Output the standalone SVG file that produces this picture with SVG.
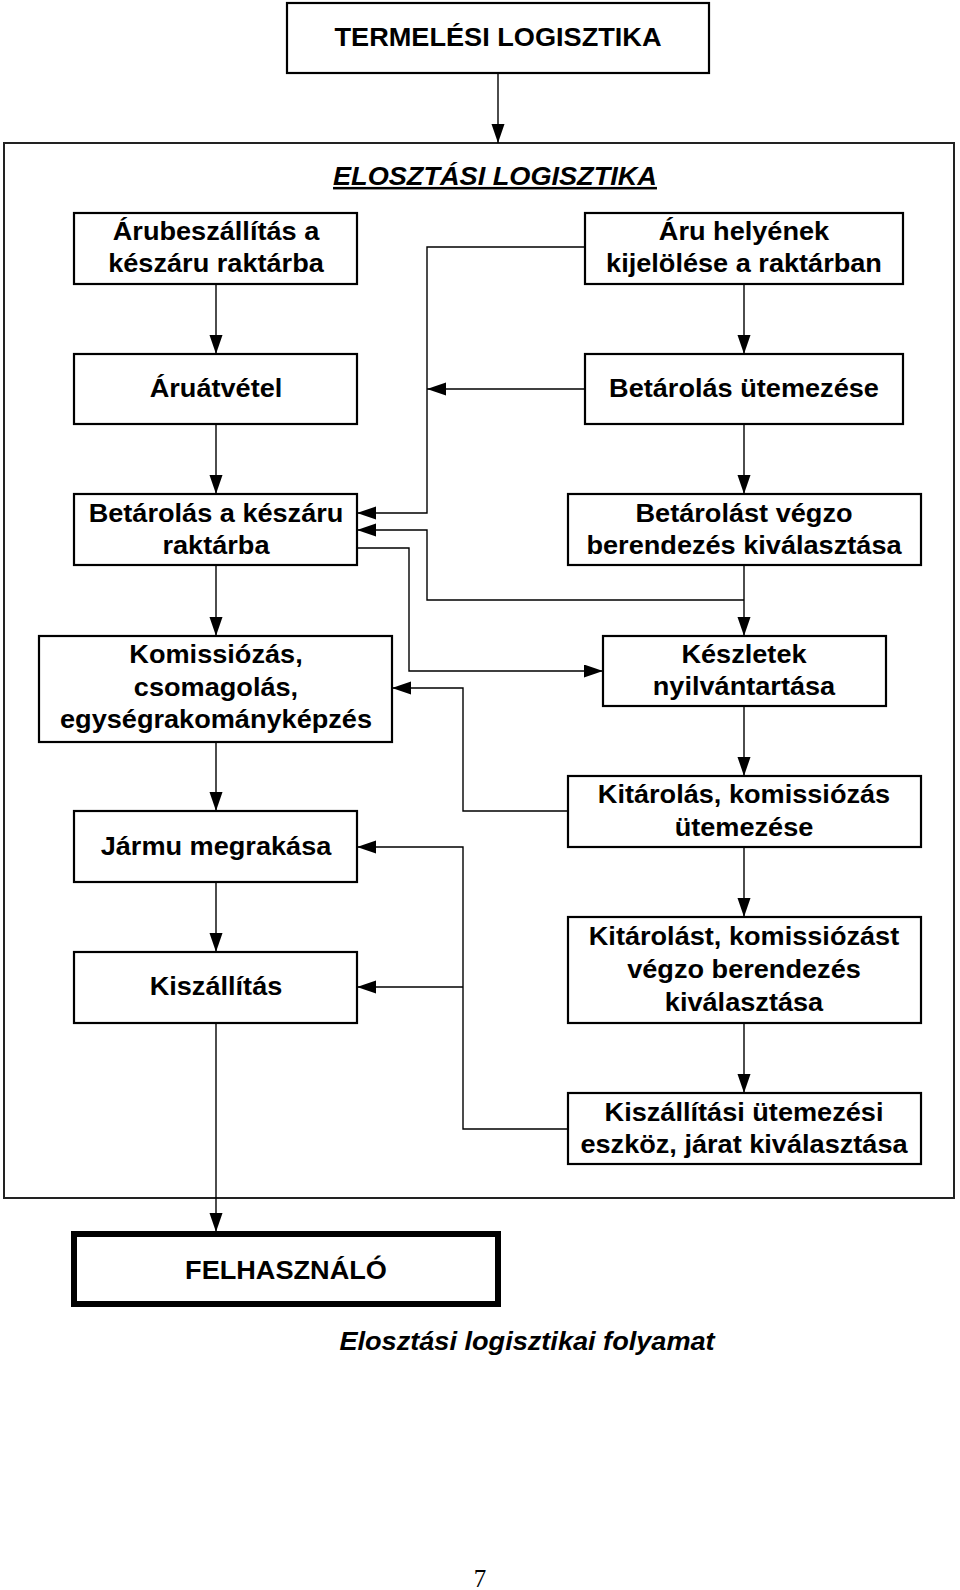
<svg xmlns="http://www.w3.org/2000/svg" width="960" height="1590" viewBox="0 0 960 1590">
<style>
.box{fill:#fff;stroke:#000;stroke-width:2.2}
.t{font-family:"Liberation Sans",Arial,Helvetica,sans-serif;font-weight:bold;font-size:25px;fill:#000;text-anchor:middle}
.c{fill:none;stroke:#000;stroke-width:1.4}
</style>
<defs>
<marker id="ah" markerUnits="userSpaceOnUse" markerWidth="20" markerHeight="14" refX="19" refY="6.5" orient="auto" viewBox="0 0 20 14">
<path d="M0,0 L19,6.5 L0,13 z" fill="#000"/>
</marker>
</defs>
<rect x="0" y="0" width="960" height="1590" fill="#fff"/>

<g id="outer">
<rect x="4" y="143" width="950" height="1055" fill="none" stroke="#222" stroke-width="2"/>
<text class="t" font-style="italic" text-decoration="underline" transform="translate(495,185) scale(1.085 1)">ELOSZTÁSI LOGISZTIKA</text>
</g>

<g id="termelesi">
<rect class="box" x="287" y="3" width="422" height="70"/>
<text class="t" transform="translate(498,46) scale(1.085 1)">TERMELÉSI LOGISZTIKA</text>
</g>

<g id="arubeszallitas">
<rect class="box" x="74" y="213" width="283" height="71"/>
<text class="t" transform="translate(216,240) scale(1.085 1)">Árubeszállítás a</text>
<text class="t" transform="translate(216,272) scale(1.085 1)">készáru raktárba</text>
</g>
<g id="aruatvetel">
<rect class="box" x="74" y="354" width="283" height="70"/>
<text class="t" transform="translate(216,397) scale(1.085 1)">Áruátvétel</text>
</g>
<g id="betarolas-keszaru">
<rect class="box" x="74" y="494" width="283" height="71"/>
<text class="t" transform="translate(216,522) scale(1.085 1)">Betárolás a készáru</text>
<text class="t" transform="translate(216,554) scale(1.085 1)">raktárba</text>
</g>
<g id="komissiozas">
<rect class="box" x="39" y="636" width="353" height="106"/>
<text class="t" transform="translate(216,663) scale(1.085 1)">Komissiózás,</text>
<text class="t" transform="translate(216,696) scale(1.085 1)">csomagolás,</text>
<text class="t" transform="translate(216,728) scale(1.085 1)">egységrakományképzés</text>
</g>
<g id="jarmu">
<rect class="box" x="74" y="811" width="283" height="71"/>
<text class="t" transform="translate(216,855) scale(1.085 1)">Jármu megrakása</text>
</g>
<g id="kiszallitas">
<rect class="box" x="74" y="952" width="283" height="71"/>
<text class="t" transform="translate(216,995) scale(1.085 1)">Kiszállítás</text>
</g>

<g id="aru-helyenek">
<rect class="box" x="585" y="213" width="318" height="71"/>
<text class="t" transform="translate(744,240) scale(1.085 1)">Áru helyének</text>
<text class="t" transform="translate(744,272) scale(1.085 1)">kijelölése a raktárban</text>
</g>
<g id="betarolas-utemezese">
<rect class="box" x="585" y="354" width="318" height="70"/>
<text class="t" transform="translate(744,397) scale(1.085 1)">Betárolás ütemezése</text>
</g>
<g id="betarolast-vegzo">
<rect class="box" x="568" y="494" width="353" height="71"/>
<text class="t" transform="translate(744,522) scale(1.085 1)">Betárolást végzo</text>
<text class="t" transform="translate(744,554) scale(1.085 1)">berendezés kiválasztása</text>
</g>
<g id="keszletek">
<rect class="box" x="603" y="636" width="283" height="70"/>
<text class="t" transform="translate(744,663) scale(1.085 1)">Készletek</text>
<text class="t" transform="translate(744,695) scale(1.085 1)">nyilvántartása</text>
</g>
<g id="kitarolas-utemezese">
<rect class="box" x="568" y="776" width="353" height="71"/>
<text class="t" transform="translate(744,803) scale(1.085 1)">Kitárolás, komissiózás</text>
<text class="t" transform="translate(744,836) scale(1.085 1)">ütemezése</text>
</g>
<g id="kitarolast-vegzo">
<rect class="box" x="568" y="917" width="353" height="106"/>
<text class="t" transform="translate(744,945) scale(1.085 1)">Kitárolást, komissiózást</text>
<text class="t" transform="translate(744,978) scale(1.085 1)">végzo berendezés</text>
<text class="t" transform="translate(744,1011) scale(1.085 1)">kiválasztása</text>
</g>
<g id="kiszallitasi-utemezesi">
<rect class="box" x="568" y="1093" width="353" height="71"/>
<text class="t" transform="translate(744,1121) scale(1.085 1)">Kiszállítási ütemezési</text>
<text class="t" transform="translate(744,1153) scale(1.085 1)">eszköz, járat kiválasztása</text>
</g>

<g id="felhasznalo">
<rect x="74" y="1234" width="424" height="70" fill="#fff" stroke="#000" stroke-width="6"/>
<text class="t" transform="translate(286,1279) scale(1.085 1)">FELHASZNÁLÓ</text>
</g>

<g id="connectors">
<path class="c" d="M498,73 V143" marker-end="url(#ah)"/>
<path class="c" d="M216,284 V354" marker-end="url(#ah)"/>
<path class="c" d="M216,424 V494" marker-end="url(#ah)"/>
<path class="c" d="M216,565 V636" marker-end="url(#ah)"/>
<path class="c" d="M216,742 V811" marker-end="url(#ah)"/>
<path class="c" d="M216,882 V952" marker-end="url(#ah)"/>
<path class="c" d="M216,1023 V1232" marker-end="url(#ah)"/>
<path class="c" d="M744,284 V354" marker-end="url(#ah)"/>
<path class="c" d="M744,424 V494" marker-end="url(#ah)"/>
<path class="c" d="M744,565 V636" marker-end="url(#ah)"/>
<path class="c" d="M744,706 V776" marker-end="url(#ah)"/>
<path class="c" d="M744,847 V917" marker-end="url(#ah)"/>
<path class="c" d="M744,1023 V1093" marker-end="url(#ah)"/>
<path class="c" d="M585,247 H427 V513 H357" marker-end="url(#ah)"/>
<path class="c" d="M585,389 H427" marker-end="url(#ah)"/>
<path class="c" d="M744,600 H427 V530 H357" marker-end="url(#ah)"/>
<path class="c" d="M357,548 H409 V671 H603" marker-end="url(#ah)"/>
<path class="c" d="M568,811 H463 V688 H392" marker-end="url(#ah)"/>
<path class="c" d="M568,1129 H463 V847 H357" marker-end="url(#ah)"/>
<path class="c" d="M463,987 H357" marker-end="url(#ah)"/>
</g>

<text class="t" font-style="italic" transform="translate(527,1350) scale(1.085 1)">Elosztási logisztikai folyamat</text>
<text x="480" y="1587" font-family="'Liberation Serif','Times New Roman',serif" font-size="25" text-anchor="middle" fill="#000">7</text>
</svg>
